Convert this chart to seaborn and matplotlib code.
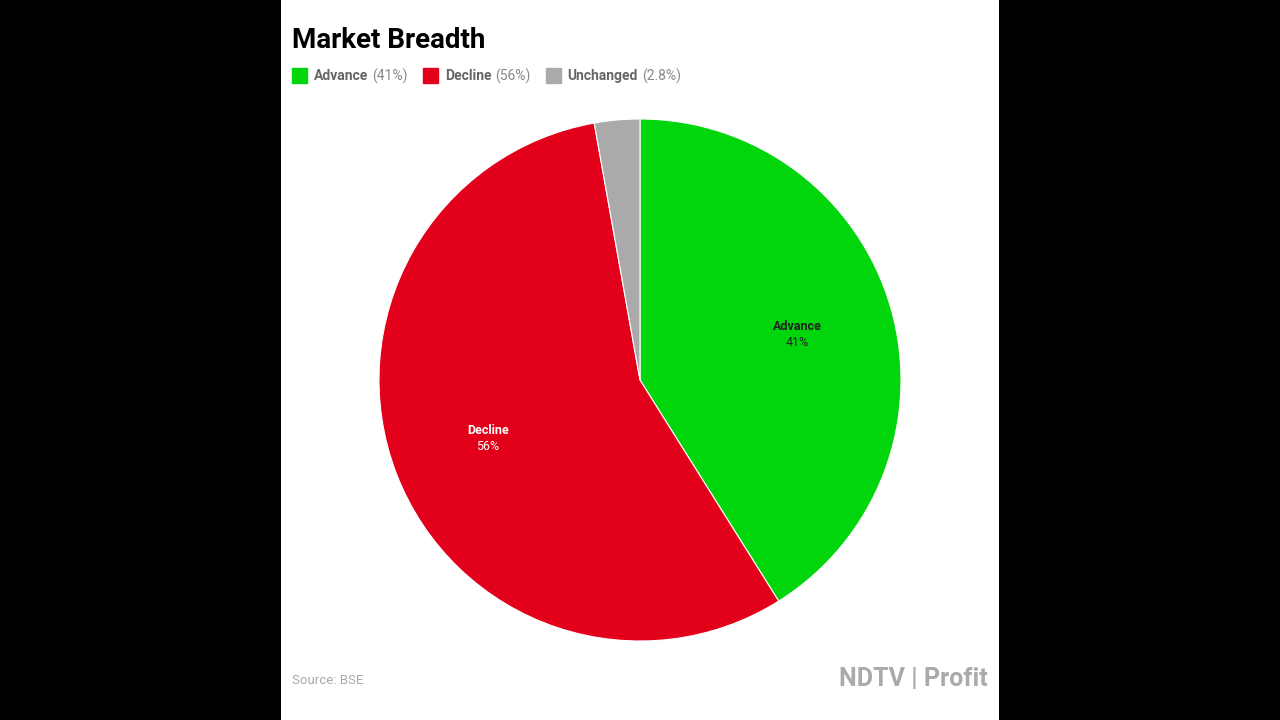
import matplotlib
matplotlib.use("Agg")
import matplotlib.pyplot as plt
import seaborn as sns

sns.set_theme(style="white")
plt.rcParams['font.family'] = ['Roboto', 'DejaVu Sans']

categorias = ["Advance", "Decline", "Unchanged"]
valores = [41.0, 56.0, 2.8]
etiquetas_leyenda = ["41%", "56%", "2.8%"]
colores = ["#00d60b", "#e2001a", "#aaaaaa"]

fig = plt.figure(figsize=(12.8, 7.2), dpi=100)
fig.patch.set_facecolor("black")

# Panel blanco central
panel = fig.add_axes([281/1280, 0, 718/1280, 1])
panel.set_facecolor("white")
panel.set_xticks([]); panel.set_yticks([])
for s in panel.spines.values():
    s.set_visible(False)

fig.text(292/1280, 1 - 40/720, "Market Breadth", fontsize=20, fontweight="bold",
         color="black", va="center")

# Leyenda manual
x = 292
for cat, et, col in zip(categorias, etiquetas_leyenda, colores):
    fig.patches.append(plt.Rectangle((x/1280, 1 - 83/720), 15/1280, 15/720,
                                     transform=fig.transFigure, color=col))
    t1 = fig.text((x + 22)/1280, 1 - 76/720, cat, fontsize=10, fontweight="bold",
                  color="#666666", va="center")
    fig.canvas.draw()
    bb = t1.get_window_extent()
    t2 = fig.text(bb.x1/1280 + 4/1280, 1 - 76/720, f"({et})", fontsize=10,
                  color="#888888", va="center")
    fig.canvas.draw()
    x = t2.get_window_extent().x1 + 15

# Tarta
r = 261
ax = fig.add_axes([(640 - r)/1280, (720 - 380 - r)/720, 2*r/1280, 2*r/720])
wedges, _ = ax.pie(valores, colors=colores, startangle=90, counterclock=False,
                   wedgeprops=dict(edgecolor="white", linewidth=0.8))
ax.set_aspect("auto")
ax.set_xlim(-1, 1)
ax.set_ylim(-1, 1)

fig.text(797/1280, 1 - 327/720, "Advance", fontsize=9, fontweight="bold", ha="center", va="center", color="#222222")
fig.text(797/1280, 1 - 343/720, "41%", fontsize=9, ha="center", va="center", color="#222222")
fig.text(488/1280, 1 - 430/720, "Decline", fontsize=9, fontweight="bold", ha="center", va="center", color="white")
fig.text(488/1280, 1 - 446/720, "56%", fontsize=9, ha="center", va="center", color="white")

fig.text(292/1280, 1 - 680/720, "Source: BSE", fontsize=9.5, color="#aaaaaa", va="center")
fig.text(988/1280, 1 - 679/720, "NDTV | Profit", fontsize=18, fontweight="bold",
         color="#aaaaaa", va="center", ha="right")

fig.savefig("out.png", dpi=100, facecolor="black")
